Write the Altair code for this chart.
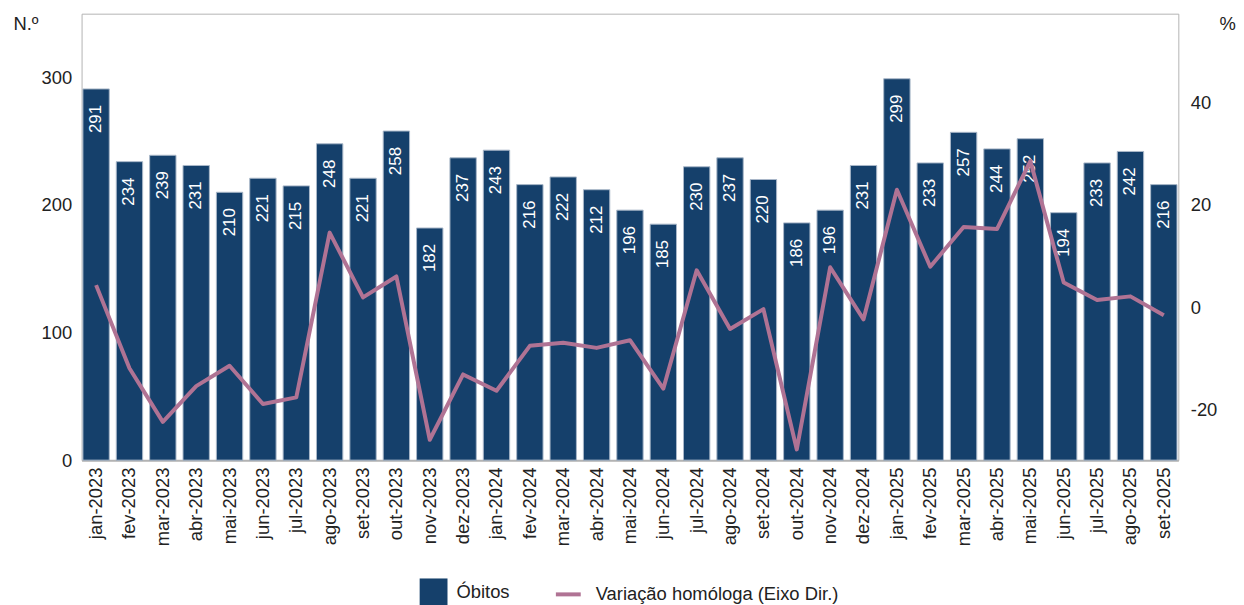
import altair as alt
import pandas as pd

meses = [
    "jan-2023", "fev-2023", "mar-2023", "abr-2023", "mai-2023", "jun-2023",
    "jul-2023", "ago-2023", "set-2023", "out-2023", "nov-2023", "dez-2023",
    "jan-2024", "fev-2024", "mar-2024", "abr-2024", "mai-2024", "jun-2024",
    "jul-2024", "ago-2024", "set-2024", "out-2024", "nov-2024", "dez-2024",
    "jan-2025", "fev-2025", "mar-2025", "abr-2025", "mai-2025", "jun-2025",
    "jul-2025", "ago-2025", "set-2025",
]
obitos = [
    291, 234, 239, 231, 210, 221, 215, 248, 221, 258, 182, 237,
    243, 216, 222, 212, 196, 185, 230, 237, 220, 186, 196, 231,
    299, 233, 257, 244, 252, 194, 233, 242, 216,
]
variacao = [
    4.3, -12.0, -22.5, -15.5, -11.5, -19.0, -17.7, 14.6, 1.9, 6.0, -26.0, -13.2,
    -16.4, -7.6, -7.0, -8.0, -6.5, -16.0, 7.2, -4.3, -0.4, -27.9, 7.8, -2.4,
    23.0, 7.9, 15.7, 15.3, 28.6, 4.8, 1.4, 2.1, -1.6,
]
serie_barras = "Óbitos"
serie_linha = "Variação homóloga (Eixo Dir.)"

df = pd.DataFrame({"mes": meses, "obitos": obitos, "var": variacao})

FONT = "Liberation Sans"
NAVY = "#15406b"
MAUVE = "#b07394"
TXT = "#222222"
FS = 18.5

x_enc = alt.X(
    "mes:N",
    sort=meses,
    scale=alt.Scale(paddingInner=0.21, paddingOuter=0.04),
    axis=alt.Axis(
        title=None, labelAngle=-90, labelPadding=7, ticks=False,
        domainColor="#b3b3b3", domainWidth=2,
    ),
)

y_left = alt.Scale(domain=[0, 350], nice=False)
left_axis = alt.Axis(
    values=[0, 100, 200, 300], title="N.º", titleAngle=0,
    titleAlign="left", titleBaseline="alphabetic", titleX=-69, titleY=16,
    grid=False, domain=False, ticks=False, labelPadding=10,
)

base = alt.Chart(df)

bars = base.transform_calculate(s1=f"'{serie_barras}'").mark_bar(
    stroke="#a9b7c9", strokeWidth=1
).encode(
    x=x_enc,
    y=alt.Y("obitos:Q", scale=y_left, axis=left_axis),
    fill=alt.Fill(
        "s1:N", scale=alt.Scale(range=[NAVY]),
        legend=alt.Legend(
            title=None, orient="none", legendX=340, legendY=568,
            symbolType="square", symbolSize=784, symbolStrokeWidth=0,
            labelOffset=9, labelLimit=0,
        ),
    ),
)

labels = base.mark_text(
    angle=270, align="right", baseline="middle", dx=-16,
    color="white", fontSize=17, font=FONT,
).encode(
    x=x_enc,
    y=alt.Y("obitos:Q", scale=y_left, axis=left_axis),
    text="obitos:Q",
)

line = base.transform_calculate(s2=f"'{serie_linha}'").mark_line(
    strokeWidth=4, strokeJoin="round"
).encode(
    x=x_enc,
    y=alt.Y(
        "var:Q",
        scale=alt.Scale(domain=[-30, 57.5], nice=False, zero=False),
        axis=alt.Axis(
            orient="right", values=[-20, 0, 20, 40], title="%", titleAngle=0,
            titleAlign="left", titleBaseline="alphabetic", titleX=41, titleY=16,
            grid=False, domain=False, ticks=False, labelPadding=12,
            labelExpr="'' + datum.value",
        ),
    ),
    stroke=alt.Stroke(
        "s2:N", scale=alt.Scale(range=[MAUVE]),
        legend=alt.Legend(
            title=None, orient="none", legendX=475, legendY=569.5,
            symbolType="stroke", symbolSize=625, symbolStrokeWidth=4,
            labelOffset=13, labelLimit=0,
        ),
    ),
)

chart = alt.layer(alt.layer(bars, labels), line).resolve_scale(
    y="independent"
).properties(
    width=1103, height=449,
    autosize=alt.AutoSizeParams(type="none"),
    padding={"left": 74, "top": 4, "right": 58, "bottom": 150},
).configure_view(
    stroke="#b3b3b3", strokeWidth=1
).configure_axis(
    labelFont=FONT, titleFont=FONT, labelFontSize=FS, titleFontSize=FS,
    labelColor=TXT, titleColor=TXT, titleFontWeight="normal",
).configure_legend(
    labelFont=FONT, labelFontSize=FS, labelColor=TXT,
)

chart.save("out.html", embed_options={"renderer": "svg", "actions": False})
